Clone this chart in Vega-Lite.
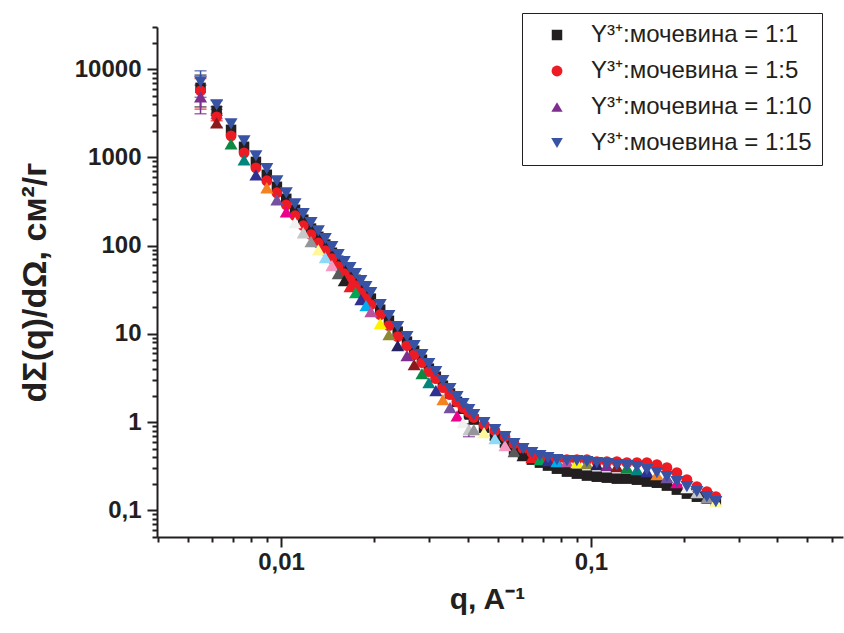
{
  "$schema": "https://vega.github.io/schema/vega-lite/v6.json",
  "width": 686,
  "height": 510,
  "autosize": {"type": "none"},
  "padding": {"left": 157, "top": 27, "right": 1, "bottom": 96},
  "background": "white",
  "config": {"view": {"stroke": null}, "font": "Liberation Sans"},
  "datasets": {
    "pts": [
      {"s":"1:1","q":0.0055,"I":6140},{"s":"1:1","q":0.0062,"I":3370},{"s":"1:1","q":0.0069,"I":2050},{"s":"1:1","q":0.0076,"I":1317},{"s":"1:1","q":0.0083,"I":889},{"s":"1:1","q":0.0090,"I":635},{"s":"1:1","q":0.0097,"I":464},{"s":"1:1","q":0.0104,"I":339},{"s":"1:1","q":0.0111,"I":255},{"s":"1:1","q":0.0118,"I":197},{"s":"1:1","q":0.0125,"I":156},{"s":"1:1","q":0.0132,"I":126},{"s":"1:1","q":0.0139,"I":103},{"s":"1:1","q":0.0146,"I":83.1},{"s":"1:1","q":0.0153,"I":67.5},{"s":"1:1","q":0.0160,"I":56.2},{"s":"1:1","q":0.0167,"I":48.1},{"s":"1:1","q":0.0174,"I":41.1},{"s":"1:1","q":0.0181,"I":34.2},{"s":"1:1","q":0.0188,"I":29.2},{"s":"1:1","q":0.0195,"I":25.1},
      {"s":"1:1","q":0.0209,"I":18.8},{"s":"1:1","q":0.0223,"I":14.1},{"s":"1:1","q":0.0238,"I":10.6},{"s":"1:1","q":0.0255,"I":8.17},{"s":"1:1","q":0.0269,"I":6.45},{"s":"1:1","q":0.0285,"I":5.10},{"s":"1:1","q":0.0300,"I":4.04},{"s":"1:1","q":0.0316,"I":3.27},{"s":"1:1","q":0.0333,"I":2.59},{"s":"1:1","q":0.0351,"I":2.11},{"s":"1:1","q":0.0370,"I":1.70},{"s":"1:1","q":0.0387,"I":1.42},{"s":"1:1","q":0.0404,"I":1.22},{"s":"1:1","q":0.0419,"I":1.07},
      {"s":"1:1","q":0.0452,"I":0.866},{"s":"1:1","q":0.0490,"I":0.703},{"s":"1:1","q":0.0528,"I":0.586},{"s":"1:1","q":0.0565,"I":0.488},{"s":"1:1","q":0.0604,"I":0.428},{"s":"1:1","q":0.0645,"I":0.376},{"s":"1:1","q":0.0685,"I":0.348},{"s":"1:1","q":0.0727,"I":0.322},{"s":"1:1","q":0.0777,"I":0.297},{"s":"1:1","q":0.0837,"I":0.275},{"s":"1:1","q":0.0901,"I":0.261},{"s":"1:1","q":0.0971,"I":0.248},{"s":"1:1","q":0.1045,"I":0.241},{"s":"1:1","q":0.1126,"I":0.235},{"s":"1:1","q":0.1213,"I":0.229},{"s":"1:1","q":0.1307,"I":0.229},{"s":"1:1","q":0.1408,"I":0.223},{"s":"1:1","q":0.1516,"I":0.212},{"s":"1:1","q":0.1633,"I":0.206},{"s":"1:1","q":0.1759,"I":0.191},{"s":"1:1","q":0.1894,"I":0.172},{"s":"1:1","q":0.2041,"I":0.155},{"s":"1:1","q":0.2198,"I":0.143},{"s":"1:1","q":0.2367,"I":0.136},{"s":"1:1","q":0.2531,"I":0.129},

      {"s":"1:5","q":0.0055,"I":5670},{"s":"1:5","q":0.0062,"I":2880},{"s":"1:5","q":0.0069,"I":1754},{"s":"1:5","q":0.0076,"I":1126},{"s":"1:5","q":0.0083,"I":760},{"s":"1:5","q":0.0090,"I":543},{"s":"1:5","q":0.0097,"I":397},{"s":"1:5","q":0.0104,"I":290},{"s":"1:5","q":0.0111,"I":218},{"s":"1:5","q":0.0118,"I":168},{"s":"1:5","q":0.0125,"I":133},{"s":"1:5","q":0.0132,"I":107},{"s":"1:5","q":0.0139,"I":87.7},{"s":"1:5","q":0.0146,"I":71.1},{"s":"1:5","q":0.0153,"I":57.7},{"s":"1:5","q":0.0160,"I":48.0},{"s":"1:5","q":0.0167,"I":41.1},{"s":"1:5","q":0.0174,"I":35.2},{"s":"1:5","q":0.0181,"I":29.2},{"s":"1:5","q":0.0188,"I":25.0},{"s":"1:5","q":0.0195,"I":21.4},
      {"s":"1:5","q":0.0209,"I":16.5},{"s":"1:5","q":0.0223,"I":12.4},{"s":"1:5","q":0.0238,"I":9.32},{"s":"1:5","q":0.0255,"I":7.36},{"s":"1:5","q":0.0269,"I":5.81},{"s":"1:5","q":0.0285,"I":4.72},{"s":"1:5","q":0.0300,"I":3.74},{"s":"1:5","q":0.0316,"I":3.11},{"s":"1:5","q":0.0333,"I":2.46},{"s":"1:5","q":0.0351,"I":2.05},{"s":"1:5","q":0.0370,"I":1.70},{"s":"1:5","q":0.0387,"I":1.46},{"s":"1:5","q":0.0404,"I":1.29},{"s":"1:5","q":0.0419,"I":1.13},
      {"s":"1:5","q":0.0452,"I":0.937},{"s":"1:5","q":0.0490,"I":0.801},{"s":"1:5","q":0.0528,"I":0.685},{"s":"1:5","q":0.0565,"I":0.571},{"s":"1:5","q":0.0604,"I":0.501},{"s":"1:5","q":0.0645,"I":0.451},{"s":"1:5","q":0.0685,"I":0.417},{"s":"1:5","q":0.0727,"I":0.396},{"s":"1:5","q":0.0777,"I":0.376},{"s":"1:5","q":0.0837,"I":0.376},{"s":"1:5","q":0.0901,"I":0.376},{"s":"1:5","q":0.0971,"I":0.376},{"s":"1:5","q":0.1045,"I":0.357},{"s":"1:5","q":0.1126,"I":0.357},{"s":"1:5","q":0.1213,"I":0.357},{"s":"1:5","q":0.1307,"I":0.348},{"s":"1:5","q":0.1408,"I":0.348},{"s":"1:5","q":0.1516,"I":0.348},{"s":"1:5","q":0.1633,"I":0.330},{"s":"1:5","q":0.1759,"I":0.305},{"s":"1:5","q":0.1894,"I":0.268},{"s":"1:5","q":0.2041,"I":0.223},{"s":"1:5","q":0.2198,"I":0.186},{"s":"1:5","q":0.2367,"I":0.163},{"s":"1:5","q":0.2531,"I":0.143},

      {"s":"1:10","q":0.0055,"I":4850},{"s":"1:10","q":0.0062,"I":2466},{"s":"1:10","q":0.0069,"I":1426},{"s":"1:10","q":0.0076,"I":939},{"s":"1:10","q":0.0083,"I":634},{"s":"1:10","q":0.0090,"I":453},{"s":"1:10","q":0.0097,"I":331},{"s":"1:10","q":0.0104,"I":242},{"s":"1:10","q":0.0111,"I":182},{"s":"1:10","q":0.0118,"I":140},{"s":"1:10","q":0.0125,"I":111},{"s":"1:10","q":0.0132,"I":89.7},{"s":"1:10","q":0.0139,"I":73.2},{"s":"1:10","q":0.0146,"I":59.3},{"s":"1:10","q":0.0153,"I":48.1},{"s":"1:10","q":0.0160,"I":40.1},{"s":"1:10","q":0.0167,"I":34.3},{"s":"1:10","q":0.0174,"I":29.3},{"s":"1:10","q":0.0181,"I":24.4},{"s":"1:10","q":0.0188,"I":20.9},{"s":"1:10","q":0.0195,"I":17.9},
      {"s":"1:10","q":0.0209,"I":13.1},{"s":"1:10","q":0.0223,"I":9.82},{"s":"1:10","q":0.0238,"I":7.38},{"s":"1:10","q":0.0255,"I":5.67},{"s":"1:10","q":0.0269,"I":4.48},{"s":"1:10","q":0.0285,"I":3.54},{"s":"1:10","q":0.0300,"I":2.81},{"s":"1:10","q":0.0316,"I":2.28},{"s":"1:10","q":0.0333,"I":1.80},{"s":"1:10","q":0.0351,"I":1.46},{"s":"1:10","q":0.0370,"I":1.18},{"s":"1:10","q":0.0387,"I":0.988},{"s":"1:10","q":0.0404,"I":0.826},{"s":"1:10","q":0.0419,"I":0.825},
      {"s":"1:10","q":0.0452,"I":0.760},{"s":"1:10","q":0.0490,"I":0.650},{"s":"1:10","q":0.0528,"I":0.542},{"s":"1:10","q":0.0565,"I":0.464},{"s":"1:10","q":0.0604,"I":0.417},{"s":"1:10","q":0.0645,"I":0.396},{"s":"1:10","q":0.0685,"I":0.376},{"s":"1:10","q":0.0727,"I":0.366},{"s":"1:10","q":0.0777,"I":0.357},{"s":"1:10","q":0.0837,"I":0.357},{"s":"1:10","q":0.0901,"I":0.348},{"s":"1:10","q":0.0971,"I":0.339},{"s":"1:10","q":0.1045,"I":0.330},{"s":"1:10","q":0.1126,"I":0.322},{"s":"1:10","q":0.1213,"I":0.313},{"s":"1:10","q":0.1307,"I":0.305},{"s":"1:10","q":0.1408,"I":0.290},{"s":"1:10","q":0.1516,"I":0.275},{"s":"1:10","q":0.1633,"I":0.254},{"s":"1:10","q":0.1759,"I":0.235},{"s":"1:10","q":0.1894,"I":0.206},{"s":"1:10","q":0.2041,"I":0.181},{"s":"1:10","q":0.2198,"I":0.159},{"s":"1:10","q":0.2367,"I":0.139},{"s":"1:10","q":0.2531,"I":0.126},

      {"s":"1:15","q":0.0055,"I":7180},{"s":"1:15","q":0.0062,"I":3940},{"s":"1:15","q":0.0069,"I":2400},{"s":"1:15","q":0.0076,"I":1540},{"s":"1:15","q":0.0083,"I":1040},{"s":"1:15","q":0.0090,"I":743},{"s":"1:15","q":0.0097,"I":543},{"s":"1:15","q":0.0104,"I":397},{"s":"1:15","q":0.0111,"I":298},{"s":"1:15","q":0.0118,"I":230},{"s":"1:15","q":0.0125,"I":182},{"s":"1:15","q":0.0132,"I":147},{"s":"1:15","q":0.0139,"I":120},{"s":"1:15","q":0.0146,"I":97.2},{"s":"1:15","q":0.0153,"I":78.9},{"s":"1:15","q":0.0160,"I":65.7},{"s":"1:15","q":0.0167,"I":56.2},{"s":"1:15","q":0.0174,"I":48.1},{"s":"1:15","q":0.0181,"I":40.0},{"s":"1:15","q":0.0188,"I":34.2},{"s":"1:15","q":0.0195,"I":29.3},
      {"s":"1:15","q":0.0209,"I":21.4},{"s":"1:15","q":0.0223,"I":16.1},{"s":"1:15","q":0.0238,"I":12.1},{"s":"1:15","q":0.0255,"I":9.30},{"s":"1:15","q":0.0269,"I":7.35},{"s":"1:15","q":0.0285,"I":5.81},{"s":"1:15","q":0.0300,"I":4.60},{"s":"1:15","q":0.0316,"I":3.73},{"s":"1:15","q":0.0333,"I":2.95},{"s":"1:15","q":0.0351,"I":2.40},{"s":"1:15","q":0.0370,"I":1.94},{"s":"1:15","q":0.0387,"I":1.62},{"s":"1:15","q":0.0404,"I":1.39},{"s":"1:15","q":0.0419,"I":1.22},
      {"s":"1:15","q":0.0452,"I":0.987},{"s":"1:15","q":0.0490,"I":0.822},{"s":"1:15","q":0.0528,"I":0.685},{"s":"1:15","q":0.0565,"I":0.571},{"s":"1:15","q":0.0604,"I":0.501},{"s":"1:15","q":0.0645,"I":0.451},{"s":"1:15","q":0.0685,"I":0.417},{"s":"1:15","q":0.0727,"I":0.396},{"s":"1:15","q":0.0777,"I":0.376},{"s":"1:15","q":0.0837,"I":0.366},{"s":"1:15","q":0.0901,"I":0.366},{"s":"1:15","q":0.0971,"I":0.357},{"s":"1:15","q":0.1045,"I":0.348},{"s":"1:15","q":0.1126,"I":0.339},{"s":"1:15","q":0.1213,"I":0.330},{"s":"1:15","q":0.1307,"I":0.322},{"s":"1:15","q":0.1408,"I":0.313},{"s":"1:15","q":0.1516,"I":0.290},{"s":"1:15","q":0.1633,"I":0.268},{"s":"1:15","q":0.1759,"I":0.241},{"s":"1:15","q":0.1894,"I":0.212},{"s":"1:15","q":0.2041,"I":0.186},{"s":"1:15","q":0.2198,"I":0.163},{"s":"1:15","q":0.2367,"I":0.143},{"s":"1:15","q":0.2531,"I":0.126}
    ],
    "errs": [
      {"s":"1:1","q":0.0055,"lo":3730,"hi":8550},
      {"s":"1:1","q":0.0062,"lo":3000,"hi":3750},
      {"s":"1:5","q":0.0055,"lo":3520,"hi":7820},
      {"s":"1:5","q":0.0062,"lo":2600,"hi":3150},
      {"s":"1:10","q":0.0055,"lo":3120,"hi":6580},
      {"s":"1:10","q":0.0062,"lo":2200,"hi":2750},
      {"s":"1:10","q":0.0404,"lo":0.685,"hi":0.96},
      {"s":"1:15","q":0.0055,"lo":4790,"hi":9570},
      {"s":"1:15","q":0.0062,"lo":3500,"hi":4400}
    ]
  },
  "encoding": {
    "x": {
      "field": "q", "type": "quantitative",
      "scale": {"type": "log", "domain": [0.00398, 0.651], "nice": false},
      "axis": {
        "values": [0.004,0.005,0.006,0.007,0.008,0.009,0.01,0.02,0.03,0.04,0.05,0.06,0.07,0.08,0.09,0.1,0.2,0.3,0.4,0.5,0.6],
        "labelExpr": "indexof([0.01,0.1], datum.value) >= 0 ? replace(format(datum.value, '~g'), '.', ',') : ''",
        "tickSize": {"condition": {"test": "indexof([0.01,0.1], datum.value) >= 0", "value": 10}, "value": 5},
        "tickWidth": 2, "tickColor": "#231F20",
        "domainColor": "#231F20", "domainWidth": 2,
        "grid": false, "labelOverlap": false, "labelFlush": false,
        "labelFont": "Liberation Sans", "labelFontSize": 24, "labelFontWeight": "bold", "labelColor": "#231F20", "labelPadding": 3,
        "title": "q, A⁻¹", "titleFont": "Liberation Sans", "titleFontSize": 30, "titleFontWeight": "bold", "titleColor": "#231F20", "titlePadding": 10, "titleX": 330
      }
    },
    "y": {
      "field": "I", "type": "quantitative",
      "scale": {"type": "log", "domain": [0.05, 30000], "nice": false},
      "axis": {
        "values": [0.05,0.06,0.07,0.08,0.09,0.1,0.2,0.3,0.4,0.5,0.6,0.7,0.8,0.9,1,2,3,4,5,6,7,8,9,10,20,30,40,50,60,70,80,90,100,200,300,400,500,600,700,800,900,1000,2000,3000,4000,5000,6000,7000,8000,9000,10000,20000,30000],
        "labelExpr": "indexof([0.1,1,10,100,1000,10000], datum.value) >= 0 ? replace(format(datum.value, '~g'), '.', ',') : ''",
        "tickSize": {"condition": {"test": "indexof([0.1,1,10,100,1000,10000], datum.value) >= 0", "value": 10}, "value": 5},
        "tickWidth": 2, "tickColor": "#231F20",
        "domainColor": "#231F20", "domainWidth": 2,
        "grid": false, "labelOverlap": false, "labelFlush": false,
        "labelFont": "Liberation Sans", "labelFontSize": 24, "labelFontWeight": "bold", "labelColor": "#231F20", "labelPadding": 6,
        "title": "dΣ(q)/dΩ, см²/г", "titleFont": "Liberation Sans", "titleFontSize": 34, "titleFontWeight": "bold", "titleColor": "#231F20", "titlePadding": 22
      }
    }
  },
  "layer": [
    {
      "data": {"name": "errs"},
      "mark": {"type": "errorbar", "ticks": {"size": 12}, "thickness": 1.5},
      "encoding": {
        "y": {"field": "lo", "type": "quantitative", "scale": {"type": "log", "domain": [0.05, 30000], "nice": false}},
        "y2": {"field": "hi"},
        "color": {"field": "s", "type": "nominal", "scale": {"domain": ["1:1","1:5","1:10","1:15"], "range": ["#231F20","#ED1C24","#7D2E8E","#3953A4"]}, "legend": null}
      }
    },
    {
      "data": {"name": "pts"},
      "transform": [{"filter": "datum.s == '1:1' || datum.s == '1:5'"}],
      "mark": {"type": "point", "filled": true, "opacity": 1},
      "encoding": {
        "color": {
          "field": "s", "type": "nominal",
          "scale": {"domain": ["1:1","1:5","1:10","1:15"], "range": ["#231F20","#ED1C24","#7D2E8E","#3953A4"]},
          "legend": {
            "orient": "none", "legendX": 365, "legendY": -14,
            "title": null,
            "labelExpr": "'Y³⁺:мочевина = ' + datum.label + ' '",
            "labelFont": "Liberation Sans", "labelFontSize": 24, "labelColor": "#231F20", "labelLimit": 0,
            "symbolSize": 100, "symbolStrokeWidth": 0, "symbolOpacity": 1,
            "strokeColor": "#231F20", "fillColor": "white",
            "padding": 10, "rowPadding": 12, "symbolOffset": 13, "labelOffset": 22
          }
        },
        "shape": {
          "field": "s", "type": "nominal",
          "scale": {"domain": ["1:1","1:5","1:10","1:15"], "range": ["square","circle","triangle-up","triangle-down"]}
        },
        "size": {
          "field": "s", "type": "nominal",
          "scale": {"domain": ["1:1","1:5","1:10","1:15"], "range": [110,135,170,170]},
          "legend": null
        }
      }
    },
    {
      "data": {"name": "pts"},
      "transform": [{"filter": "datum.s == '1:10'"}],
      "mark": {"type": "point", "filled": true, "opacity": 1, "shape": "triangle-up", "size": 170},
      "encoding": {
        "color": {
          "field": "q", "type": "ordinal",
          "scale": {"range": ["#7D2E8E","#8B1A1D","#0C8A43","#00857F","#2E3192","#F58220","#7450A0","#EC008C","#F1F1F2","#C7C8CA","#939598","#FFF799","#8ED8F8","#F49AC2","#58595B","#231F20","#ED1C24","#00A651","#2E3192","#00AEEF","#B9529F","#FFF200","#8D8A35","#262262"]},
          "legend": null
        }
      }
    },
    {
      "data": {"name": "pts"},
      "transform": [{"filter": "datum.s == '1:15'"}],
      "mark": {"type": "point", "filled": true, "opacity": 1, "shape": "triangle-down", "size": 170, "color": "#3953A4"}
    }
  ],
  "resolve": {"scale": {"color": "independent", "shape": "independent", "size": "independent"}}
}
